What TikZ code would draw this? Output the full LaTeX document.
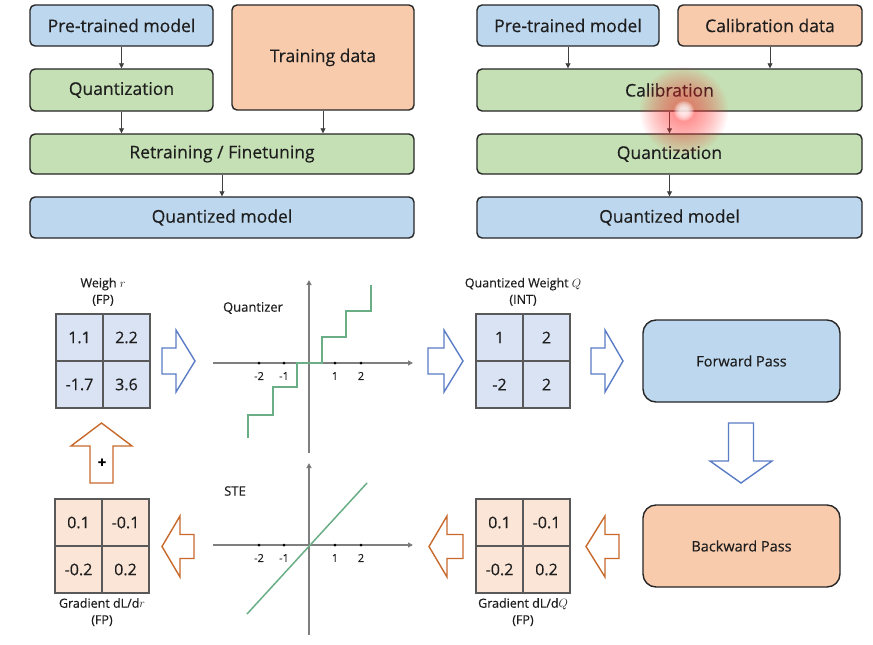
\documentclass[tikz,border=0pt]{standalone}
\usepackage{fontspec}
\setmainfont{Open Sans}[FakeBold=0.35]
\usetikzlibrary{arrows.meta}
\definecolor{bxblue}{HTML}{BDD7EE}
\definecolor{bxgreen}{HTML}{C5E0B4}
\definecolor{bxorange}{HTML}{F8CBAD}
\definecolor{mxblue}{HTML}{DAE3F3}
\definecolor{mxorange}{HTML}{FBE5D6}
\definecolor{arblue}{HTML}{5A7DC6}
\definecolor{arorange}{HTML}{C8692C}
\definecolor{lngreen}{HTML}{6AAE86}
\definecolor{txt}{HTML}{1E1E1E}
\definecolor{axgrey}{HTML}{7F7F7F}
\newcommand\blkH[7]{% tail x, head base x, tip x, cy, shaft half, head half, style
  \draw[#7] (#1,{#4-#5}) -- (#2,{#4-#5}) -- (#2,{#4-#6}) -- (#3,#4) -- (#2,{#4+#6}) -- (#2,{#4+#5}) -- (#1,{#4+#5}) -- cycle;}
\newcommand\blkV[7]{% tail y, head base y, tip y, cx, shaft half, head half, style
  \draw[#7] ({#4-#5},#1) -- ({#4-#5},#2) -- ({#4-#6},#2) -- (#4,#3) -- ({#4+#6},#2) -- ({#4+#5},#2) -- ({#4+#5},#1) -- cycle;}
\begin{document}
\begin{tikzpicture}[x=1pt,y=-1pt,
  box/.style={draw=black!85, line width=1.4pt, rounded corners=5pt, text=txt, font=\fontsize{17.5}{20}\selectfont, inner sep=0pt},
  bigbox/.style={draw=black!85, line width=1.4pt, rounded corners=13pt, text=txt, font=\fontsize{14.5}{17}\selectfont, inner sep=0pt, minimum width=197pt, minimum height=82pt},
  thinarrow/.style={draw=black!75, line width=0.8pt, -{Triangle[length=5pt,width=5pt]}},
  mx/.style={draw=black!65, line width=1.1pt, minimum width=94pt, minimum height=94pt, inner sep=0pt},
  num/.style={text=txt, font=\fontsize{16}{18}\selectfont},
  lbl/.style={text=txt, font=\fontsize{12.5}{16.5}\selectfont, align=center, inner sep=0pt},
  tick/.style={text=txt, font=\fontsize{11}{12}\selectfont, inner sep=0pt},
  axis/.style={draw=axgrey, line width=1.5pt, -{Triangle[length=5pt,width=5pt,fill=black]}},
  bluearr/.style={draw=arblue, line width=1.4pt, fill=white, line join=miter},
  orarr/.style={draw=arorange, line width=1.4pt, fill=white, line join=miter},
  curve/.style={draw=lngreen, line width=1.5pt},
  plotlbl/.style={text=txt, font=\fontsize{13}{15}\selectfont, inner sep=0pt}
]
\useasboundingbox[fill=white] (0,0) rectangle (873,645);

% ---------- top left panel ----------
\node[box, fill=bxblue, minimum width=183pt, minimum height=41pt] (pt1) at (121.5,25.5) {Pre-trained model};
\node[box, fill=bxorange, minimum width=182pt, minimum height=105pt] (td) at (323,57.5) {Training data};
\node[box, fill=bxgreen, minimum width=183pt, minimum height=42pt] (q1) at (121.5,90) {Quantization};
\node[box, fill=bxgreen, minimum width=384pt, minimum height=40pt] (rf) at (222,154) {Retraining / Finetuning};
\node[box, fill=bxblue, minimum width=384pt, minimum height=41pt] (qm1) at (222,217.5) {Quantized model};
\draw[thinarrow] (pt1.south) -- (q1.north);
\draw[thinarrow] (q1.south) -- (q1.south |- rf.north);
\draw[thinarrow] (td.south) -- (td.south |- rf.north);
\draw[thinarrow] (rf.south) -- (qm1.north);

% ---------- top right panel ----------
\node[box, fill=bxblue, minimum width=182pt, minimum height=41pt] (pt2) at (568,25.5) {Pre-trained model};
\node[box, fill=bxorange, minimum width=184pt, minimum height=41pt] (cd) at (770,25.5) {Calibration data};
\node[box, fill=bxgreen, minimum width=385pt, minimum height=42pt] (cal) at (669.5,90) {Calibration};
\node[box, fill=bxgreen, minimum width=385pt, minimum height=40pt] (q2) at (669.5,154) {Quantization};
\node[box, fill=bxblue, minimum width=385pt, minimum height=41pt] (qm2) at (669.5,217.5) {Quantized model};
\draw[thinarrow] (pt2.south) -- (pt2.south |- cal.north);
\draw[thinarrow] (cd.south) -- (cd.south |- cal.north);
\draw[thinarrow] (cal.south) -- (q2.north);
\draw[thinarrow] (q2.south) -- (qm2.north);

% pointer glow
\foreach \r in {44,42,...,8} {\fill[red!80!white, opacity=0.04] (684,111) circle (\r pt);}
\foreach \r in {10,9,...,4} {\fill[white, opacity=0.2] (684,111) circle (\r pt);}

% ---------- bottom: matrices ----------
\node[mx, fill=mxblue] (mw) at (103,361) {};
\draw[draw=black!65, line width=1.1pt] (mw.north) -- (mw.south) (mw.west) -- (mw.east);
\node[num] at (79.5,337.5) {1.1}; \node[num] at (126.5,337.5) {2.2};
\node[num] at (79.5,384.5) {-1.7}; \node[num] at (126.5,384.5) {3.6};
\node[lbl, anchor=south] (lw) at (103,306) {Weigh $r$\\(FP)};

\node[mx, fill=mxblue] (mq) at (523,361) {};
\draw[draw=black!65, line width=1.1pt] (mq.north) -- (mq.south) (mq.west) -- (mq.east);
\node[num] at (499.5,337.5) {1}; \node[num] at (546.5,337.5) {2};
\node[num] at (499.5,384.5) {-2}; \node[num] at (546.5,384.5) {2};
\node[lbl, anchor=south] (lq) at (523,306) {Quantized Weight $Q$\\(INT)};

\node[mx, fill=mxorange] (mdq) at (523,546) {};
\draw[draw=black!65, line width=1.1pt] (mdq.north) -- (mdq.south) (mdq.west) -- (mdq.east);
\node[num] at (499.5,522.5) {0.1}; \node[num] at (546.5,522.5) {-0.1};
\node[num] at (499.5,569.5) {-0.2}; \node[num] at (546.5,569.5) {0.2};
\node[lbl, anchor=north] (ldq) at (523,598) {Gradient dL/d$Q$\\(FP)};

\node[mx, fill=mxorange] (mdr) at (102,546) {};
\draw[draw=black!65, line width=1.1pt] (mdr.north) -- (mdr.south) (mdr.west) -- (mdr.east);
\node[num] at (78.5,522.5) {0.1}; \node[num] at (125.5,522.5) {-0.1};
\node[num] at (78.5,569.5) {-0.2}; \node[num] at (125.5,569.5) {0.2};
\node[lbl, anchor=north] (ldr) at (102,598) {Gradient dL/d$r$\\(FP)};

% ---------- pass boxes ----------
\node[bigbox, fill=bxblue] (fwd) at (741.5,361) {Forward Pass};
\node[bigbox, fill=bxorange] (bwd) at (741.5,546) {Backward Pass};

% ---------- quantizer plot ----------
\draw[axis] (213,363) -- (413,363);
\draw[axis] (309,453) -- (309,280);
\foreach \x/\t in {259/-2,284/-1,335/1,361/2} {
  \fill[black] (\x,363) circle (1.5pt);
  \node[tick] at (\x,376) {\t};
}
\node[plotlbl] at (253,308) {Quantizer};
\draw[curve] (248,438) -- (248,415) -- (273,415) -- (273,387) -- (297,387) -- (297,363) -- (322,363) -- (322,337) -- (346,337) -- (346,311) -- (371,311) -- (371,285);

% ---------- STE plot ----------
\draw[axis] (213,545) -- (413,545);
\draw[axis] (309,635) -- (309,463);
\foreach \x/\t in {259/-2,284/-1,335/1,361/2} {
  \fill[black] (\x,545) circle (1.5pt);
  \node[tick] at (\x,558) {\t};
}
\node[plotlbl] at (235,491) {STE};
\draw[curve] (247,614) -- (367,483);

% ---------- block arrows ----------
\blkH{162}{176}{195}{361}{13}{31}{bluearr}
\blkH{428}{444}{463}{361}{13}{31}{bluearr}
\blkH{591}{605}{623}{361}{13}{31}{bluearr}
\blkV{423}{461}{483}{741}{12.5}{31}{bluearr}
\blkH{619}{605}{586}{546.5}{12}{30.5}{orarr}
\blkH{463}{447}{429}{546.5}{12}{30.5}{orarr}
\blkH{194}{180}{162}{546.5}{12}{30.5}{orarr}
\blkV{483}{446}{423}{101.5}{11.5}{30.5}{orarr}
\node[text=black, font=\fontsize{15}{15}\selectfont\bfseries, inner sep=0pt] (plus) at (102,463) {+};
\end{tikzpicture}
\end{document}
